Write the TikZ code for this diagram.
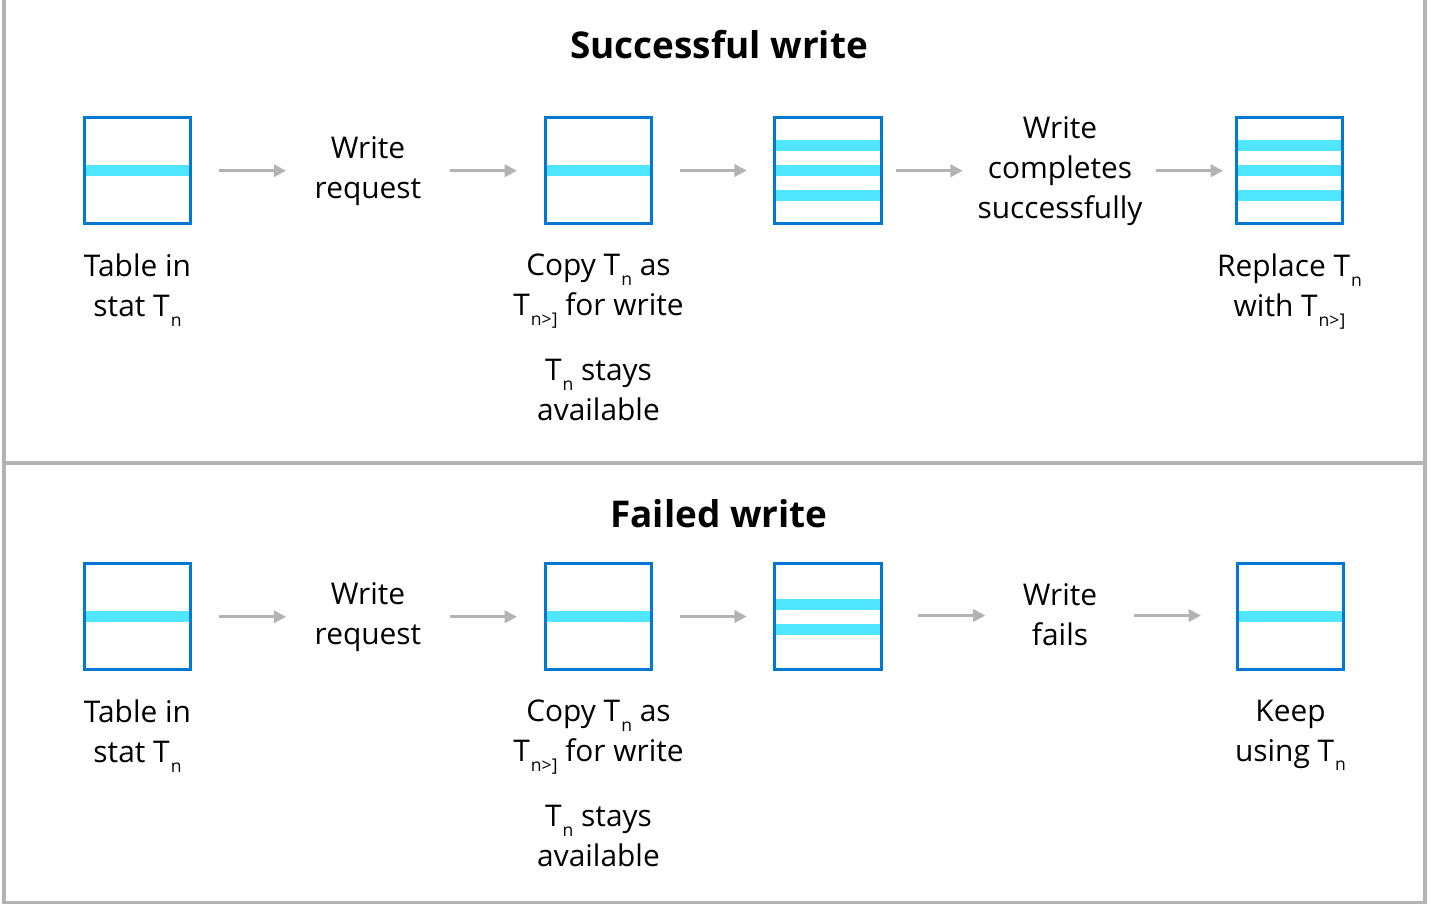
\documentclass[tikz,border=0pt]{standalone}
\usepackage{fontspec}
\setmainfont{Open Sans}
\usetikzlibrary{positioning, calc, arrows.meta}
\definecolor{tblue}{HTML}{0078D4}
\definecolor{tcyan}{HTML}{50E6FF}
\definecolor{lgray}{HTML}{B3B3B3}
% T with a lowered index
\newcommand{\Tsub}[1]{T\kern0.6pt\raisebox{-0.32em}{\fontsize{10}{10}\selectfont #1}}
% row stripes inside a table box, offsets in px from the centre (down is positive)
\newcommand{\stripes}[2]{\foreach \dy in {#2} {\fill[stripe] ([xshift=0.9pt,yshift={(0.11-(\dy)*0.02)*1cm}]#1.west) rectangle ([xshift=-0.9pt,yshift={(-0.11-(\dy)*0.02)*1cm}]#1.east);}}
% short arrow centred in the gap between two nodes
\newcommand{\flowto}[2]{\draw[flow] ($(#1.east)!0.5!(#2.west)$) ++(-33.5,0) -- ++(67,0);}

\begin{document}
\begin{tikzpicture}[x=0.02cm, y=-0.02cm,
tbl/.style={rectangle, draw=tblue, line width=1.7pt, fill=white, minimum size=2.13cm, inner sep=0pt, outer sep=0pt},
stripe/.style={fill=tcyan},
lbl/.style={align=center, inner sep=0pt, font=\fontsize{17}{22.7}\selectfont},
title/.style={inner sep=0pt, font=\fontsize{21}{25}\selectfont\bfseries},
flow/.style={draw=lgray, line width=1.6pt, -{Triangle[length=7pt, width=7pt]}},
frame/.style={draw=lgray, line width=2pt}
]
\useasboundingbox (0,0) rectangle (1433,904);

% Frame and divider
\draw[frame] (4,0) -- (4,902.5) -- (1425,902.5) -- (1425,0);
\draw[frame] (4,463) -- (1425,463);

% Top half - successful write
\node[title] (stitle) at (719,45) {Successful write};

\node[tbl] (s1) at (137.5,170.5) {};
\node[tbl] (s2) at (598.5,170.5) {};
\node[tbl] (s3) at (828,170.5) {};
\node[tbl] (s4) at (1289.5,170.5) {};
\stripes{s1}{0}
\stripes{s2}{0}
\stripes{s3}{-25,0,25}
\stripes{s4}{-25,0,25}

\node[lbl] (sreq) at (368,171) {Write\\request};
\node[lbl] (sdone) at (1060,171) {Write\\completes\\successfully};

\node[lbl, below=0.6cm of s1] (s1lbl) {Table in\\stat \Tsub{n}};
\node[lbl, below=0.6cm of s2] (s2lbl) {Copy \Tsub{n} as\\\Tsub{n>]} for write};
\node[lbl, below=0.62cm of s2lbl] (s2note) {\Tsub{n} stays\\available};
\node[lbl, below=0.6cm of s4] (s4lbl) {Replace \Tsub{n}\\with \Tsub{n>]}};

\flowto{s1}{sreq}
\flowto{sreq}{s2}
\flowto{s2}{s3}
\flowto{s3}{sdone}
\flowto{sdone}{s4}

% Bottom half - failed write
\node[title] (ftitle) at (719,514) {Failed write};

\node[tbl] (f1) at (137.5,616.5) {};
\node[tbl] (f2) at (598.5,616.5) {};
\node[tbl] (f3) at (828,616.5) {};
\node[tbl] (f4) at (1290.5,616.5) {};
\stripes{f1}{0}
\stripes{f2}{0}
\stripes{f3}{-12.5,12.5}
\stripes{f4}{0}

\node[lbl] (freq) at (368,617) {Write\\request};
\node[lbl] (ffail) at (1060,614.5) {Write\\fails};

\node[lbl, below=0.6cm of f1] (f1lbl) {Table in\\stat \Tsub{n}};
\node[lbl, below=0.6cm of f2] (f2lbl) {Copy \Tsub{n} as\\\Tsub{n>]} for write};
\node[lbl, below=0.62cm of f2lbl] (f2note) {\Tsub{n} stays\\available};
\node[lbl, below=0.6cm of f4] (f4lbl) {Keep\\using \Tsub{n}};

\flowto{f1}{freq}
\flowto{freq}{f2}
\flowto{f2}{f3}
\flowto{f3}{ffail}
\flowto{ffail}{f4}

\end{tikzpicture}
\end{document}
